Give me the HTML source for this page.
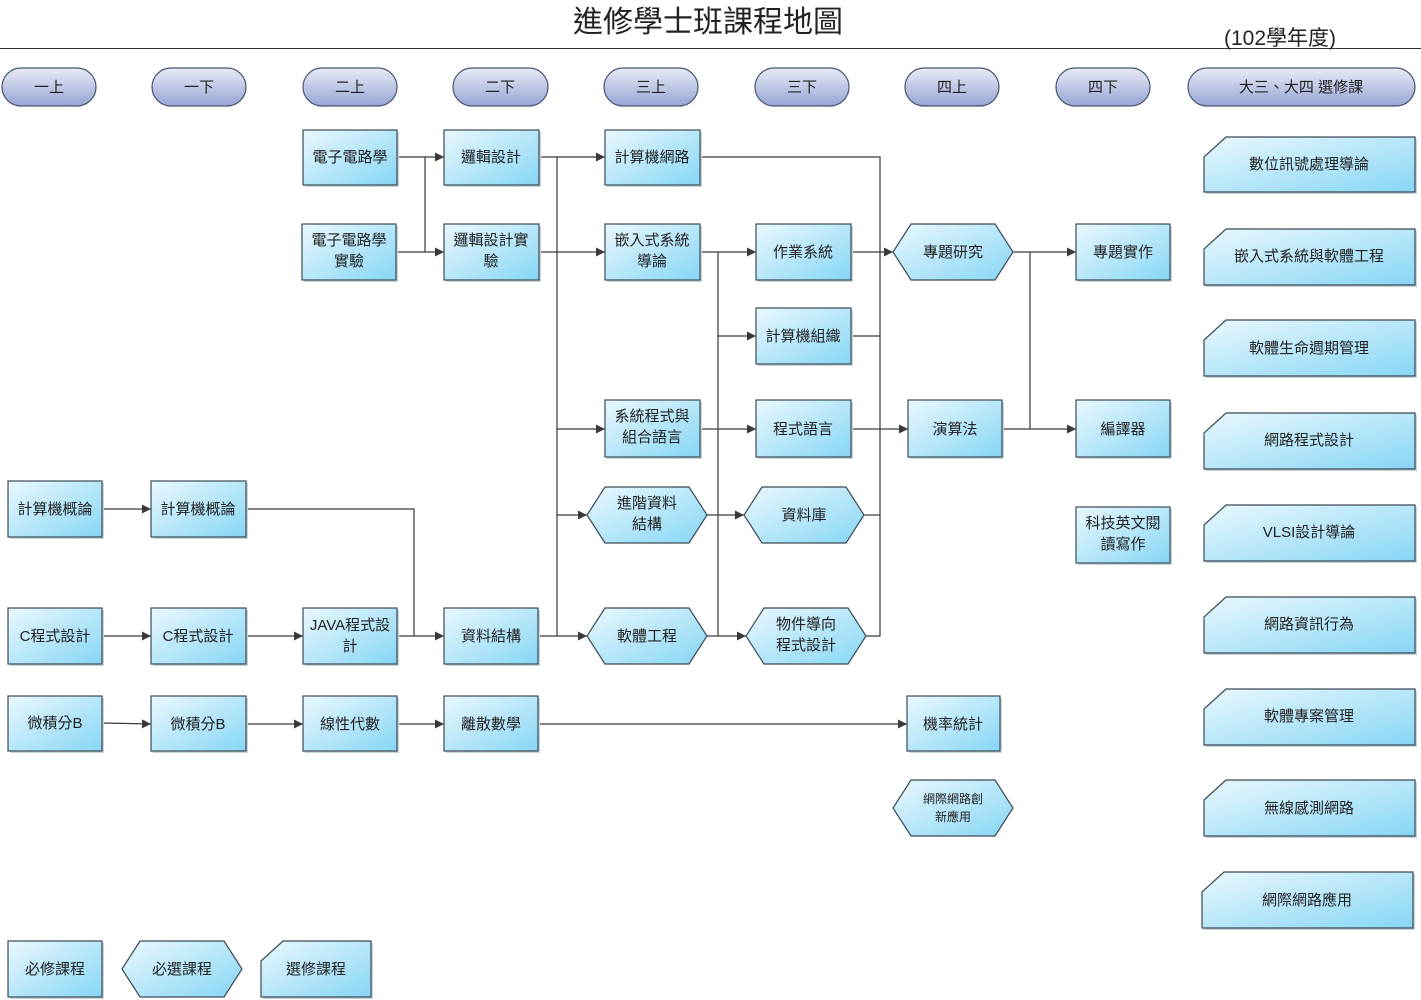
<!DOCTYPE html>
<html><head><meta charset="utf-8"><style>
html,body{margin:0;padding:0;background:#fff}
svg{display:block}
text{font-family:"Liberation Sans","Noto Sans CJK TC",sans-serif;fill:#222}
.b{fill:url(#g);stroke:#3a4a55;stroke-width:1.2}
.s{fill:#c9d5dc}
.p{fill:url(#pg);stroke:#4a5470;stroke-width:1.2}
.l{stroke:#3a3a3a;stroke-width:1.2;fill:none}
.a{stroke:#3a3a3a;stroke-width:1.2;fill:none;marker-end:url(#m)}
.t{font-size:15px;text-anchor:middle}
</style></head><body>
<svg width="1421" height="1000" viewBox="0 0 1421 1000" xmlns="http://www.w3.org/2000/svg">
<defs>
<linearGradient id="g" x1="0" y1="0" x2="1" y2="1"><stop offset="0" stop-color="#eaf8fd"/><stop offset="1" stop-color="#86d6f5"/></linearGradient>
<linearGradient id="pg" x1="0" y1="0" x2="0" y2="1"><stop offset="0" stop-color="#e8ebf6"/><stop offset="1" stop-color="#97a4d4"/></linearGradient>
<marker id="m" viewBox="0 0 10 10" refX="10" refY="5" markerWidth="10" markerHeight="9" orient="auto" markerUnits="userSpaceOnUse"><path d="M0,0 L10,5 L0,10 z" fill="#3a3a3a"/></marker>
</defs>
<text x="708" y="32" style="font-size:30px;text-anchor:middle">進修學士班課程地圖</text>
<line x1="0" y1="48.5" x2="1421" y2="48.5" stroke="#333" stroke-width="1"/>
<text x="1224" y="45" style="font-size:21px">(102學年度)</text>

<!-- pills -->
<g>
<rect x="2" y="68" width="94" height="38" rx="19" class="p"/><text x="49" y="92" class="t">一上</text>
<rect x="152" y="68" width="94" height="38" rx="19" class="p"/><text x="199" y="92" class="t">一下</text>
<rect x="303" y="68" width="94" height="38" rx="19" class="p"/><text x="350" y="92" class="t">二上</text>
<rect x="453" y="68" width="95" height="38" rx="19" class="p"/><text x="500" y="92" class="t">二下</text>
<rect x="604" y="68" width="94" height="38" rx="19" class="p"/><text x="651" y="92" class="t">三上</text>
<rect x="755" y="68" width="94" height="38" rx="19" class="p"/><text x="802" y="92" class="t">三下</text>
<rect x="905" y="68" width="94" height="38" rx="19" class="p"/><text x="952" y="92" class="t">四上</text>
<rect x="1056" y="68" width="94" height="38" rx="19" class="p"/><text x="1103" y="92" class="t">四下</text>
<rect x="1188" y="68" width="227" height="38" rx="19" class="p"/><text x="1301" y="92" class="t">大三、大四 選修課</text>
</g>

<!-- connectors -->
<g>
<polyline class="l" points="397,157 425,157 425,252"/>
<line class="a" x1="425" y1="157" x2="444" y2="157"/>
<line class="a" x1="397" y1="252" x2="444" y2="252"/>
<line class="a" x1="539" y1="157" x2="605" y2="157"/>
<line class="a" x1="539" y1="252" x2="605" y2="252"/>
<line class="l" x1="557" y1="157" x2="557" y2="636"/>
<line class="a" x1="557" y1="429" x2="605" y2="429"/>
<line class="a" x1="557" y1="515" x2="587" y2="515"/>
<line class="a" x1="538" y1="636" x2="587" y2="636"/>
<line class="l" x1="718" y1="252" x2="718" y2="636"/>
<line class="a" x1="700" y1="252" x2="756" y2="252"/>
<line class="a" x1="718" y1="336" x2="756" y2="336"/>
<line class="a" x1="700" y1="429" x2="756" y2="429"/>
<line class="a" x1="707" y1="515" x2="744" y2="515"/>
<line class="a" x1="707" y1="636" x2="746" y2="636"/>
<polyline class="l" points="700,157 880,157 880,636 866,636"/>
<line class="a" x1="851" y1="252" x2="893" y2="252"/>
<line class="l" x1="851" y1="336" x2="880" y2="336"/>
<line class="a" x1="851" y1="429" x2="908" y2="429"/>
<line class="l" x1="864" y1="515" x2="880" y2="515"/>
<line class="a" x1="1013" y1="252" x2="1076" y2="252"/>
<line class="l" x1="1030" y1="252" x2="1030" y2="429"/>
<line class="a" x1="1002" y1="429" x2="1076" y2="429"/>
<line class="a" x1="102" y1="509" x2="151" y2="509"/>
<polyline class="l" points="246,509 414,509 414,636"/>
<line class="a" x1="102" y1="636" x2="151" y2="636"/>
<line class="a" x1="246" y1="636" x2="303" y2="636"/>
<line class="a" x1="397" y1="636" x2="444" y2="636"/>
<line class="a" x1="102" y1="723" x2="151" y2="724"/>
<line class="a" x1="246" y1="724" x2="303" y2="724"/>
<line class="a" x1="397" y1="724" x2="444" y2="724"/>
<line class="a" x1="538" y1="724" x2="907" y2="724"/>
</g>

<!-- rect boxes -->
<g>
<rect x="305" y="132" width="94" height="55" class="s"/><rect x="303" y="130" width="94" height="55" class="b"/><text x="350" y="162" class="t">電子電路學</text>
<rect x="304" y="226" width="94" height="56" class="s"/><rect x="302" y="224" width="94" height="56" class="b"/><text x="349" y="245" class="t">電子電路學</text><text x="349" y="266" class="t">實驗</text>
<rect x="446" y="132" width="95" height="55" class="s"/><rect x="444" y="130" width="95" height="55" class="b"/><text x="491" y="162" class="t">邏輯設計</text>
<rect x="446" y="226" width="95" height="56" class="s"/><rect x="444" y="224" width="95" height="56" class="b"/><text x="491" y="245" class="t">邏輯設計實</text><text x="491" y="266" class="t">驗</text>
<rect x="607" y="132" width="95" height="55" class="s"/><rect x="605" y="130" width="95" height="55" class="b"/><text x="652" y="162" class="t">計算機網路</text>
<rect x="607" y="226" width="95" height="56" class="s"/><rect x="605" y="224" width="95" height="56" class="b"/><text x="652" y="245" class="t">嵌入式系統</text><text x="652" y="266" class="t">導論</text>
<rect x="758" y="226" width="95" height="56" class="s"/><rect x="756" y="224" width="95" height="56" class="b"/><text x="803" y="257" class="t">作業系統</text>
<rect x="1078" y="226" width="94" height="56" class="s"/><rect x="1076" y="224" width="94" height="56" class="b"/><text x="1123" y="257" class="t">專題實作</text>
<rect x="758" y="310" width="95" height="56" class="s"/><rect x="756" y="308" width="95" height="56" class="b"/><text x="803" y="341" class="t">計算機組織</text>
<rect x="607" y="402" width="95" height="57" class="s"/><rect x="605" y="400" width="95" height="57" class="b"/><text x="652" y="421" class="t">系統程式與</text><text x="652" y="442" class="t">組合語言</text>
<rect x="758" y="402" width="95" height="57" class="s"/><rect x="756" y="400" width="95" height="57" class="b"/><text x="803" y="434" class="t">程式語言</text>
<rect x="910" y="402" width="94" height="57" class="s"/><rect x="908" y="400" width="94" height="57" class="b"/><text x="955" y="434" class="t">演算法</text>
<rect x="1078" y="402" width="94" height="57" class="s"/><rect x="1076" y="400" width="94" height="57" class="b"/><text x="1123" y="434" class="t">編譯器</text>
<rect x="1078" y="509" width="94" height="56" class="s"/><rect x="1076" y="507" width="94" height="56" class="b"/><text x="1123" y="528" class="t">科技英文閱</text><text x="1123" y="549" class="t">讀寫作</text>
<rect x="10" y="483" width="94" height="56" class="s"/><rect x="8" y="481" width="94" height="56" class="b"/><text x="55" y="514" class="t">計算機概論</text>
<rect x="153" y="483" width="95" height="56" class="s"/><rect x="151" y="481" width="95" height="56" class="b"/><text x="198" y="514" class="t">計算機概論</text>
<rect x="10" y="610" width="94" height="56" class="s"/><rect x="8" y="608" width="94" height="56" class="b"/><text x="55" y="641" class="t">C程式設計</text>
<rect x="153" y="610" width="95" height="56" class="s"/><rect x="151" y="608" width="95" height="56" class="b"/><text x="198" y="641" class="t">C程式設計</text>
<rect x="305" y="610" width="94" height="56" class="s"/><rect x="303" y="608" width="94" height="56" class="b"/><text x="350" y="630" class="t">JAVA程式設</text><text x="350" y="651" class="t">計</text>
<rect x="446" y="610" width="94" height="56" class="s"/><rect x="444" y="608" width="94" height="56" class="b"/><text x="491" y="641" class="t">資料結構</text>
<rect x="10" y="698" width="94" height="55" class="s"/><rect x="8" y="696" width="94" height="55" class="b"/><text x="55" y="728" class="t">微積分B</text>
<rect x="153" y="698" width="95" height="55" class="s"/><rect x="151" y="696" width="95" height="55" class="b"/><text x="198" y="729" class="t">微積分B</text>
<rect x="305" y="698" width="94" height="55" class="s"/><rect x="303" y="696" width="94" height="55" class="b"/><text x="350" y="729" class="t">線性代數</text>
<rect x="446" y="698" width="94" height="55" class="s"/><rect x="444" y="696" width="94" height="55" class="b"/><text x="491" y="729" class="t">離散數學</text>
<rect x="909" y="698" width="93" height="55" class="s"/><rect x="907" y="696" width="93" height="55" class="b"/><text x="953" y="729" class="t">機率統計</text>
<rect x="10" y="943" width="94" height="56" class="s"/><rect x="8" y="941" width="94" height="56" class="b"/><text x="55" y="974" class="t">必修課程</text>
</g>

<!-- hexagons -->
<g>
<polygon class="b" points="911,224 995,224 1013,252 995,280 911,280 893,252"/><text x="953" y="257" class="t">專題研究</text>
<polygon class="b" points="605,487 689,487 707,515 689,543 605,543 587,515"/><text x="647" y="508" class="t">進階資料</text><text x="647" y="529" class="t">結構</text>
<polygon class="b" points="762,487 846,487 864,515 846,543 762,543 744,515"/><text x="804" y="520" class="t">資料庫</text>
<polygon class="b" points="605,608 689,608 707,636 689,664 605,664 587,636"/><text x="647" y="641" class="t">軟體工程</text>
<polygon class="b" points="764,608 848,608 866,636 848,664 764,664 746,636"/><text x="806" y="629" class="t">物件導向</text><text x="806" y="650" class="t">程式設計</text>
<polygon class="b" points="911,780 995,780 1013,808 995,836 911,836 893,808"/><text x="953" y="803" class="t" style="font-size:12px">網際網路創</text><text x="953" y="821" class="t" style="font-size:12px">新應用</text>
<polygon class="b" points="140,941 224,941 242,969 224,997 140,997 122,969"/><text x="182" y="974" class="t">必選課程</text>
</g>

<!-- cut-corner electives -->
<g>
<polygon class="s" transform="translate(2,2)" points="1226,137 1415,137 1415,192 1204,192 1204,157"/><polygon class="b" points="1226,137 1415,137 1415,192 1204,192 1204,157"/><text x="1309" y="169" class="t">數位訊號處理導論</text>
<polygon class="s" transform="translate(2,2)" points="1226,229 1415,229 1415,285 1204,285 1204,249"/><polygon class="b" points="1226,229 1415,229 1415,285 1204,285 1204,249"/><text x="1309" y="261" class="t">嵌入式系統與軟體工程</text>
<polygon class="s" transform="translate(2,2)" points="1226,320 1415,320 1415,376 1204,376 1204,340"/><polygon class="b" points="1226,320 1415,320 1415,376 1204,376 1204,340"/><text x="1309" y="353" class="t">軟體生命週期管理</text>
<polygon class="s" transform="translate(2,2)" points="1226,413 1415,413 1415,469 1204,469 1204,433"/><polygon class="b" points="1226,413 1415,413 1415,469 1204,469 1204,433"/><text x="1309" y="445" class="t">網路程式設計</text>
<polygon class="s" transform="translate(2,2)" points="1226,505 1415,505 1415,561 1204,561 1204,525"/><polygon class="b" points="1226,505 1415,505 1415,561 1204,561 1204,525"/><text x="1309" y="537" class="t">VLSI設計導論</text>
<polygon class="s" transform="translate(2,2)" points="1226,597 1415,597 1415,653 1204,653 1204,617"/><polygon class="b" points="1226,597 1415,597 1415,653 1204,653 1204,617"/><text x="1309" y="629" class="t">網路資訊行為</text>
<polygon class="s" transform="translate(2,2)" points="1226,689 1415,689 1415,745 1204,745 1204,709"/><polygon class="b" points="1226,689 1415,689 1415,745 1204,745 1204,709"/><text x="1309" y="721" class="t">軟體專案管理</text>
<polygon class="s" transform="translate(2,2)" points="1226,780 1415,780 1415,836 1204,836 1204,800"/><polygon class="b" points="1226,780 1415,780 1415,836 1204,836 1204,800"/><text x="1309" y="813" class="t">無線感測網路</text>
<polygon class="s" transform="translate(2,2)" points="1224,872 1413,872 1413,928 1202,928 1202,892"/><polygon class="b" points="1224,872 1413,872 1413,928 1202,928 1202,892"/><text x="1307" y="905" class="t">網際網路應用</text>
<polygon class="s" transform="translate(2,2)" points="283,941 371,941 371,997 261,997 261,961"/><polygon class="b" points="283,941 371,941 371,997 261,997 261,961"/><text x="316" y="974" class="t">選修課程</text>
</g>
</svg>
</body></html>
